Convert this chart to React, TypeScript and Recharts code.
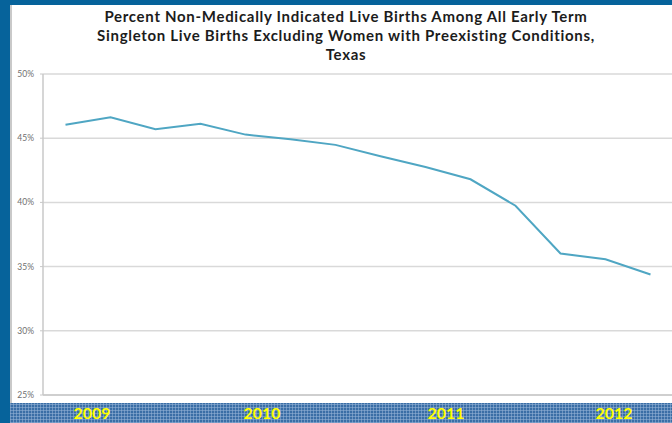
import React from "react";
import { LineChart, Line, XAxis, YAxis, CartesianGrid } from "recharts";

// Quarterly periods, 2009 Q1 through 2012 Q2
const quarters = [
  "2009 Q1", "2009 Q2", "2009 Q3", "2009 Q4",
  "2010 Q1", "2010 Q2", "2010 Q3", "2010 Q4",
  "2011 Q1", "2011 Q2", "2011 Q3", "2011 Q4",
  "2012 Q1", "2012 Q2",
];

// Percent non-medically indicated live births per quarter
const percentNonMedical = [
  46.05, 46.63, 45.7, 46.13, 45.28, 44.92, 44.48,
  43.6, 42.75, 41.8, 39.74, 36.02, 35.57, 34.38,
];

const yTicks = [25, 30, 35, 40, 45, 50];
const quarterBoundaries = [0, 1, 2, 3, 4, 5, 6, 7, 8, 9, 10, 11, 12, 13, 14];

const titleLines = [
  "Percent Non-Medically Indicated Live Births Among All Early Term",
  "Singleton Live Births Excluding Women with Preexisting Conditions,",
  "Texas",
];

const yearLabels = ["2009", "2010", "2011", "2012"];
const yearLabelCenters = [92, 262, 446, 614];

// each quarter sits in the middle of its slot on the x axis
const data = quarters.map((q, i) => ({
  quarter: q,
  slot: i + 0.5,
  value: percentNonMedical[i],
}));

const BLUE = "#06639b";

export default function App() {
  return (
    <div
      style={{
        position: "absolute",
        left: 0,
        top: 0,
        width: 672,
        height: 423,
        overflow: "hidden",
        background: BLUE,
        fontFamily: "Lato, 'Open Sans', sans-serif",
      }}
    >
      {/* white slide panel */}
      <div
        style={{
          position: "absolute",
          left: 10,
          top: 5,
          width: 662,
          height: 418,
          background: "#ffffff",
          boxShadow: "inset 2px 0 0 #c9c9c9",
        }}
      />
      <div style={{ position: "absolute", left: 0, top: 0 }}>
        <LineChart
          width={673}
          height={423}
          data={data}
          margin={{ top: 74, right: 0, bottom: 0, left: 0 }}
        >
          <CartesianGrid
            vertical={false}
            stroke="#d9d9d9"
            strokeWidth={1.5}
          />
          <XAxis
            type="number"
            dataKey="slot"
            domain={[0, 14]}
            ticks={quarterBoundaries}
            interval={0}
            tick={false}
            tickSize={4}
            axisLine={{ stroke: "#c8c8c8", strokeWidth: 1.5 }}
            tickLine={{ stroke: "#c8c8c8" }}
            height={28}
          />
          <YAxis
            type="number"
            domain={[25, 50]}
            ticks={yTicks}
            interval={0}
            width={43}
            tickSize={3}
            tickMargin={6}
            tickFormatter={(v) => `${v}%`}
            tick={{ fill: "#6f6f6f", fontSize: 8.5, fontFamily: "Lato, sans-serif" }}
            axisLine={{ stroke: "#c8c8c8", strokeWidth: 1.5 }}
            tickLine={{ stroke: "#c8c8c8" }}
          />
          <Line
            type="linear"
            dataKey="value"
            stroke="#4fa6c3"
            strokeWidth={2}
            dot={false}
            isAnimationActive={false}
          />
        </LineChart>
      </div>
      {/* title */}
      <div
        style={{
          position: "absolute",
          left: 46,
          top: 7,
          width: 600,
          textAlign: "center",
          fontWeight: 700,
          fontSize: 15,
          letterSpacing: 0.7,
          lineHeight: "19px",
          color: "#1c1c1c",
        }}
      >
        {titleLines.map((t) => (
          <div key={t}>{t}</div>
        ))}
      </div>
      {/* year band */}
      <div
        style={{
          position: "absolute",
          left: 10,
          top: 403,
          width: 662,
          height: 20,
          backgroundColor: "#3a6ea6",
          backgroundImage:
            "repeating-linear-gradient(90deg, rgba(150,180,215,0.55) 0 1px, transparent 1px 3px), repeating-linear-gradient(0deg, rgba(150,180,215,0.55) 0 1px, transparent 1px 3px)",
        }}
      />
      {yearLabels.map((y, i) => (
        <div
          key={y}
          style={{
            position: "absolute",
            left: yearLabelCenters[i] - 30,
            width: 60,
            top: 403,
            height: 20,
            lineHeight: "20px",
            textAlign: "center",
            color: "#ffff00",
            fontWeight: 700,
            fontSize: 16,
          }}
        >
          {y}
        </div>
      ))}
    </div>
  );
}
